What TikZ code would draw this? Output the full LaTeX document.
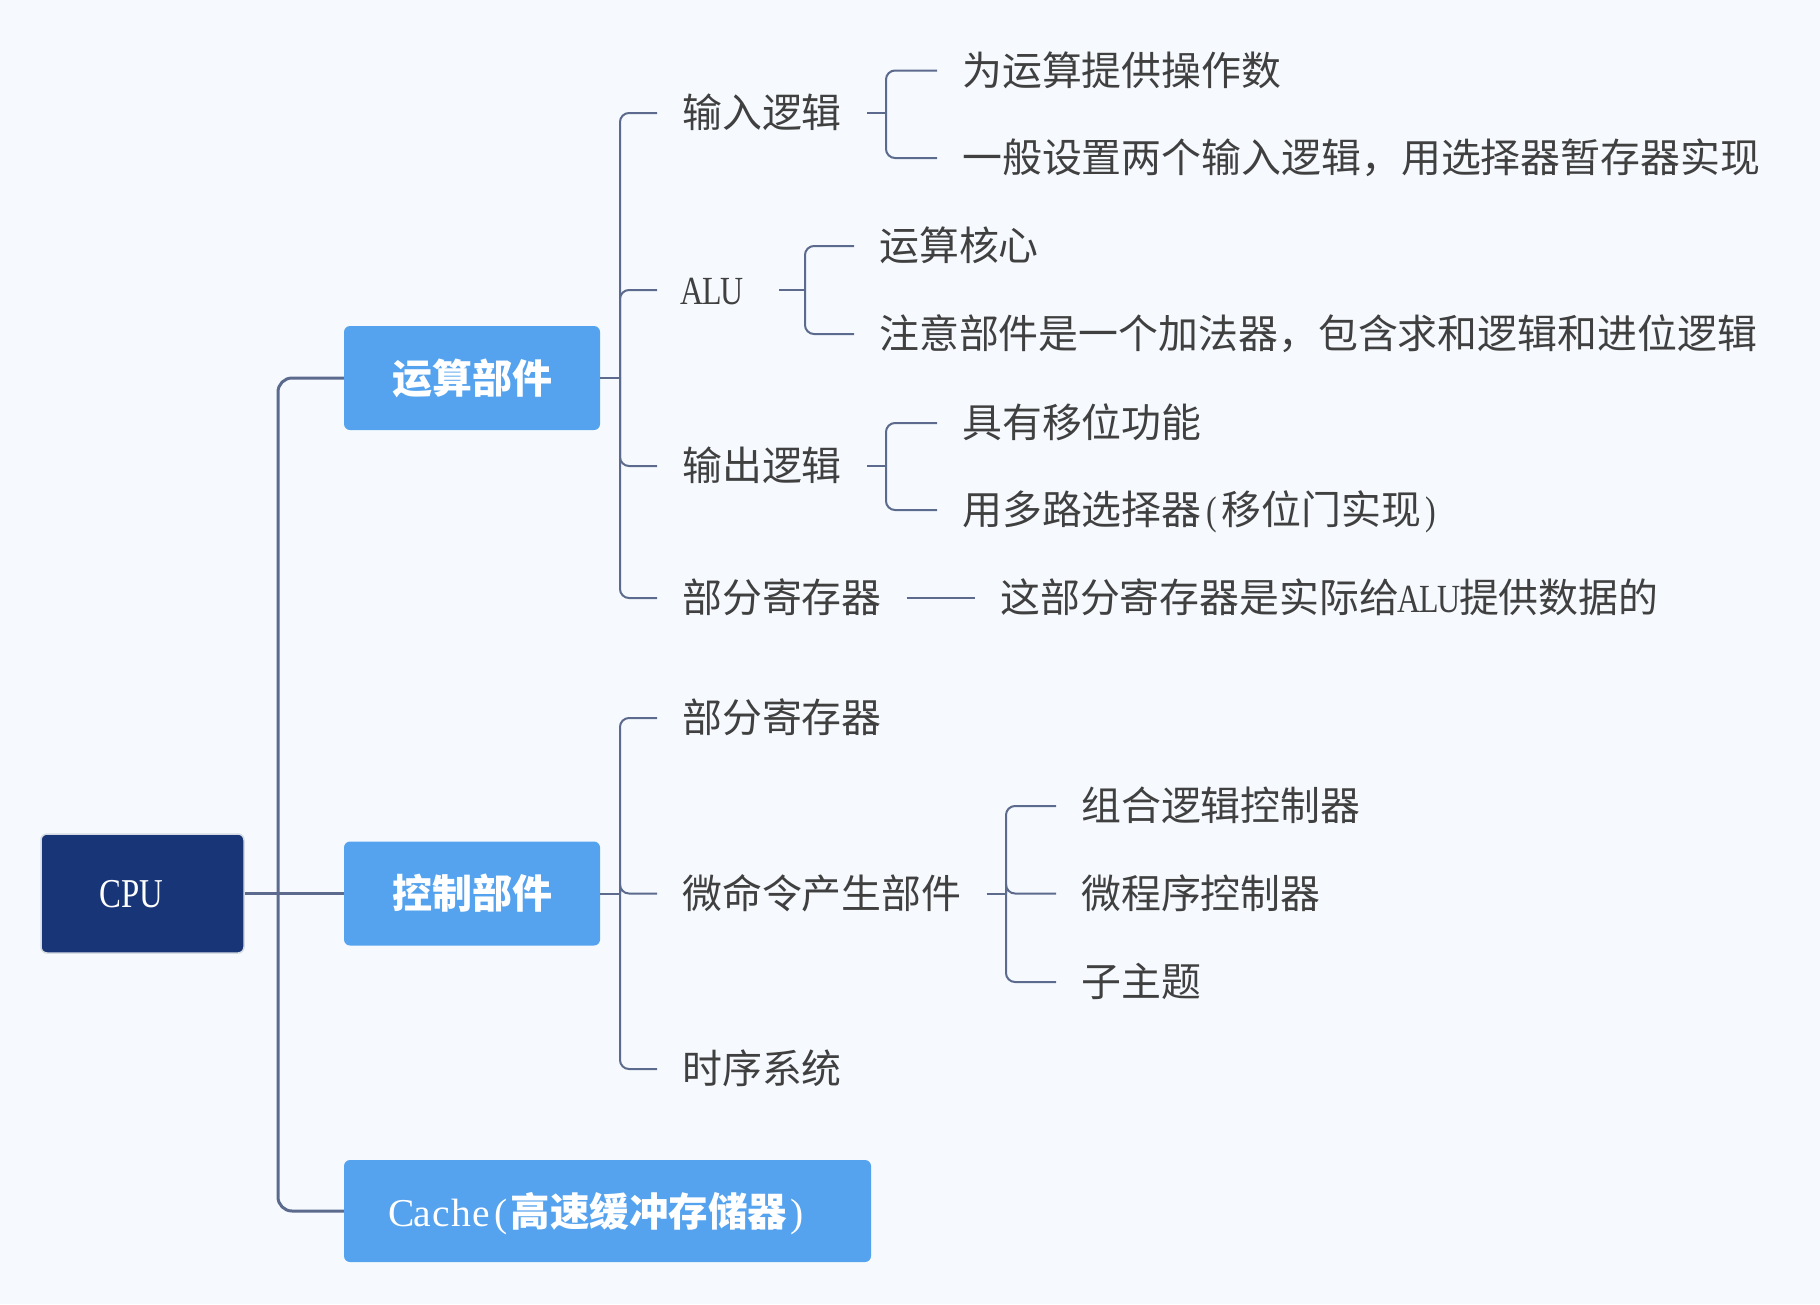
\documentclass[tikz,border=0pt]{standalone}
\usepackage{fontspec}
\setmainfont{Noto Sans CJK SC}
\newfontfamily\lat[FakeStretch=0.8]{Liberation Serif}
\newfontfamily\latw{Liberation Serif}
\newcommand\hw[1]{\makebox[0.5em]{\lat #1}}
\newcommand\hww[1]{\makebox[0.5em]{\latw\mdseries #1}}
\definecolor{bgc}{HTML}{F6FAFE}
\definecolor{boxc}{HTML}{55A3EE}
\definecolor{cpuc}{HTML}{183577}
\definecolor{cpubd}{HTML}{D5DCE4}
\definecolor{linec}{HTML}{5C6B8D}
\definecolor{txtc}{HTML}{404040}
\tikzset{
  leaf/.style={anchor=west, inner xsep=25pt, inner ysep=0pt, text=txtc,
    font=\fontsize{39.9}{47}\selectfont, text height=34pt, text depth=5pt},
  bluebox/.style={fill=boxc, rounded corners=6pt, minimum width=256pt,
    minimum height=104pt, text=white, inner sep=0pt,
    font=\fontsize{40}{48}\selectfont\bfseries, text height=35pt, text depth=5pt},
  cpubox/.style={fill=cpuc, draw=cpubd, line width=1.5pt, rounded corners=6pt,
    minimum width=203pt, minimum height=119pt, text=white, inner sep=0pt,
    font=\fontsize{41}{50}\selectfont, text height=28pt, text depth=0pt},
  conn/.style={draw=linec, line width=2pt},
  branch/.style={draw=linec, line width=2pt, rounded corners=9pt},
  trunk/.style={draw=linec, line width=3pt, rounded corners=14pt},
}
\begin{document}
\begin{tikzpicture}[x=1pt,y=-1pt]
\fill[bgc] (0,0) rectangle (1820,1304);
\useasboundingbox (0,0) rectangle (1820,1304);

% main boxes
\node[cpubox] (cpu) at (142.5,893.5) {\hspace*{-24pt}\hw{C}\hw{P}\hw{U}};
\node[bluebox] (ys) at (472,378) {运算部件};
\node[bluebox] (kz) at (472,893.5) {控制部件};
\node[bluebox, minimum width=527pt, minimum height=102pt,
  font=\fontsize{39.5}{48}\selectfont\bfseries] (cache) at (607.5,1211)
  {\hspace*{-16pt}\hww{C}\hww{a}\hww{c}\hww{h}\hww{e}\hww{(}高速缓冲存储器\hww{)}};

% level 2 under 运算部件
\node[leaf] (in) at (657,113) {输入逻辑};
\node[leaf, text width=72pt, align=left] (alu) at (657,290) {\hw{A}\hw{L}\hw{U}};
\node[leaf] (out) at (657,466) {输出逻辑};
\node[leaf] (reg1) at (657,598) {部分寄存器};

% level 3
\node[leaf] (in1) at (937,70.5) {为运算提供操作数};
\node[leaf] (in2) at (937,158) {一般设置两个输入逻辑，用选择器暂存器实现};
\node[leaf] (alu1) at (854,246) {运算核心};
\node[leaf] (alu2) at (854,334) {注意部件是一个加法器，包含求和逻辑和进位逻辑};
\node[leaf] (out1) at (937,423) {具有移位功能};
\node[leaf] (out2) at (937,510) {用多路选择器\hw{(}移位门实现\hw{)}};
\node[leaf] (reg1a) at (975,598) {这部分寄存器是实际给\hw{A}\hw{L}\hw{U}提供数据的};

% level 2 under 控制部件
\node[leaf] (reg2) at (657,718) {部分寄存器};
\node[leaf] (wml) at (657,893.5) {微命令产生部件};
\node[leaf] (sx) at (657,1069) {时序系统};

\node[leaf] (wml1) at (1056,806) {组合逻辑控制器};
\node[leaf] (wml2) at (1056,893.5) {微程序控制器};
\node[leaf] (wml3) at (1056,982) {子主题};

% junction coordinates
\coordinate (j0) at (278,893.5);
\coordinate (jys) at (620,378);
\coordinate (jkz) at (620,893.5);
\coordinate (jin) at (886,113);
\coordinate (jalu) at (805,290);
\coordinate (jout) at (886,466);
\coordinate (jwml) at (1006,893.5);

% trunk
\draw[conn, line width=3pt] (cpu.east) -- (kz.west);
\draw[trunk] (ys.west) -| (j0) |- (cache.west);

% 运算部件 branches
\draw[conn] (ys.east) -- (jys);
\foreach \c in {in,alu,out,reg1} \draw[branch] (jys) |- (\c.west);
\draw[conn] (in.east) -- (jin);
\foreach \c in {in1,in2} \draw[branch] (jin) |- (\c.west);
\draw[conn] (alu.east) -- (jalu);
\foreach \c in {alu1,alu2} \draw[branch] (jalu) |- (\c.west);
\draw[conn] (out.east) -- (jout);
\foreach \c in {out1,out2} \draw[branch] (jout) |- (\c.west);
\draw[conn] (reg1.east) -- (reg1a.west);

% 控制部件 branches
\draw[conn] (kz.east) -- (jkz);
\foreach \c in {reg2,wml,sx} \draw[branch] (jkz) |- (\c.west);
\draw[conn] (wml.east) -- (jwml);
\foreach \c in {wml1,wml2,wml3} \draw[branch] (jwml) |- (\c.west);
\end{tikzpicture}
\end{document}
